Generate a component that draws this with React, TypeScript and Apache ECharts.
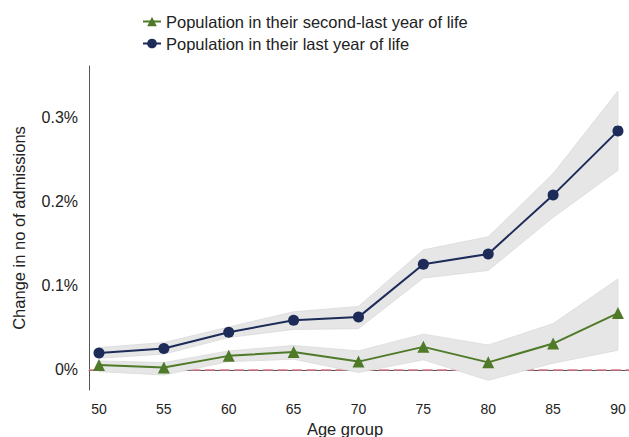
import React, { useEffect, useRef } from "react";
import * as echarts from "echarts";

const ages = [50, 55, 60, 65, 70, 75, 80, 85, 90];
const lastYear = [0.0202, 0.0254, 0.0448, 0.059, 0.0627, 0.1254, 0.1377, 0.2075, 0.2837];
const lastYearUpper = [0.0266, 0.0325, 0.051, 0.069, 0.0754, 0.1425, 0.158, 0.233, 0.331];
const lastYearLower = [0.014, 0.0187, 0.0385, 0.048, 0.049, 0.109, 0.118, 0.181, 0.237];
const secondLast = [0.006, 0.0028, 0.0167, 0.0214, 0.0099, 0.0274, 0.009, 0.0313, 0.0675];
const secondLastUpper = [0.0107, 0.0087, 0.0226, 0.029, 0.0226, 0.0425, 0.0295, 0.055, 0.108];
const secondLastLower = [-0.002, -0.006, 0.0099, 0.0127, -0.003, 0.012, -0.0123, 0.008, 0.0234];
const yTicks = [0, 0.1, 0.2, 0.3];
const zeroLine = 0;

const FONT = "'Liberation Sans', Arial, sans-serif";
const BLUE = "#1c2b58";
const GREEN = "#4f7a28";

function band(upper: number[], lower: number[], withZero: boolean) {
  return (params: any, api: any) => {
    if (params.dataIndex !== 0) return null;
    const pts: number[][] = [];
    for (let i = 0; i < ages.length; i++) pts.push(api.coord([ages[i], upper[i]]));
    for (let i = ages.length - 1; i >= 0; i--) pts.push(api.coord([ages[i], lower[i]]));
    const poly = {
      type: "polygon",
      shape: { points: pts },
      style: { fill: "#e6e6e6", stroke: "#dadada", lineWidth: 0.8 },
    };
    if (!withZero) return poly;
    const cs = params.coordSys;
    const y0 = api.coord([ages[0], zeroLine])[1];
    return {
      type: "group",
      children: [
        {
          type: "line",
          shape: { x1: cs.x, y1: y0, x2: cs.x + cs.width, y2: y0 },
          style: { stroke: "#d77a86", lineWidth: 1.5, lineDash: [10, 4.5] },
        },
        poly,
      ],
    };
  };
}

export default function App() {
  const ref = useRef<HTMLDivElement>(null);
  useEffect(() => {
    if (!ref.current) return;
    const chart = echarts.init(ref.current, null, { renderer: "svg" });
    chart.setOption({
      animation: false,
      backgroundColor: "#ffffff",
      textStyle: { fontFamily: FONT },
      legend: {
        orient: "vertical",
        left: 137,
        top: 8,
        itemWidth: 18,
        itemHeight: 12,
        itemGap: 5,
        textStyle: { fontFamily: FONT, fontSize: 16.5, color: "#222" },
        data: ["Population in their second-last year of life", "Population in their last year of life"],
      },
      grid: { left: 89, right: 0, top: 66, bottom: 47, outerBoundsMode: "none", containLabel: false },
      xAxis: {
        type: "value",
        min: 49.23,
        max: 90.85,
        splitNumber: 8,
        name: "Age group",
        nameLocation: "middle",
        nameGap: 28,
        nameTextStyle: { fontFamily: FONT, fontSize: 16.5, color: "#222", padding: [0, 28, 0, 0] },
        axisLine: { show: true, lineStyle: { color: "#555", width: 1 } },
        axisTick: { show: false },
        splitLine: { show: false },
        axisLabel: {
          fontFamily: FONT,
          fontSize: 14,
          color: "#222",
          margin: 12,
          showMinLabel: false,
          showMaxLabel: false,
          formatter: (v: number) => (ages.indexOf(Math.round(v)) >= 0 && Math.abs(v - Math.round(v)) < 1e-6 ? String(Math.round(v)) : ""),
        },
      },
      yAxis: {
        type: "value",
        min: -0.0238,
        max: 0.3607,
        splitNumber: 5,
        name: "Change in no of admissions",
        nameLocation: "middle",
        nameGap: 62,
        nameTextStyle: { fontFamily: FONT, fontSize: 16.5, color: "#222" },
        axisLine: { show: true, lineStyle: { color: "#555", width: 1 } },
        axisTick: { show: false },
        splitLine: { show: false },
        axisLabel: {
          fontFamily: FONT,
          fontSize: 16,
          color: "#222",
          margin: 11,
          showMinLabel: false,
          showMaxLabel: false,
          formatter: (v: number) => {
            const t = yTicks.find((y) => Math.abs(y - v) < 1e-6);
            return t === undefined ? "" : (t === 0 ? "0" : String(t)) + "%";
          },
        },
      },
      series: [
        {
          type: "custom",
          name: "band-second",
          z: 2,
          silent: true,
          renderItem: band(secondLastUpper, secondLastLower, true),
          data: [[ages[0], secondLast[0]]],
        },
        {
          type: "custom",
          name: "band-last",
          z: 2,
          silent: true,
          renderItem: band(lastYearUpper, lastYearLower, false),
          data: [[ages[0], lastYear[0]]],
        },
        {
          type: "line",
          name: "Population in their second-last year of life",
          z: 3,
          data: ages.map((a, i) => [a, secondLast[i]]),
          symbol: "triangle",
          symbolSize: 12,
          itemStyle: { color: GREEN },
          lineStyle: { color: GREEN, width: 2 },
        },
        {
          type: "line",
          name: "Population in their last year of life",
          z: 3,
          data: ages.map((a, i) => [a, lastYear[i]]),
          symbol: "circle",
          symbolSize: 11,
          itemStyle: { color: BLUE },
          lineStyle: { color: BLUE, width: 2 },
        },
      ],
    });
    return () => chart.dispose();
  }, []);
  return <div ref={ref} style={{ position: "fixed", left: 0, top: 0, width: 629, height: 437 }} />;
}
